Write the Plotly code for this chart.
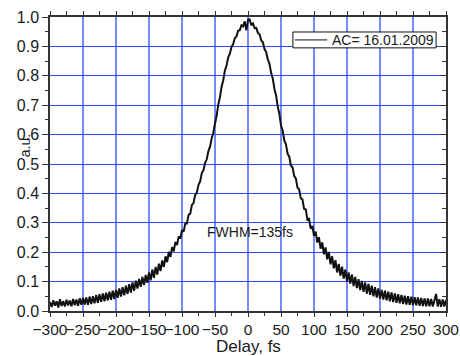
import numpy as np
import plotly.graph_objects as go

# Delay axis, 2.5 fs sampling from -300 to 300 fs
delay_start = -300.0
delay_step = 2.5

# Measured autocorrelation (a.u.), left half: -300 ... 0 fs
ac_left = [
    0.030, 0.014, 0.036, 0.018, 0.033, 0.012, 0.040, 0.017, 0.034, 0.015,
    0.038, 0.019, 0.036, 0.016, 0.041, 0.020, 0.039, 0.018, 0.043, 0.021,
    0.044, 0.022, 0.046, 0.021, 0.049, 0.024, 0.050, 0.026, 0.055, 0.028,
    0.057, 0.031, 0.060, 0.033, 0.062, 0.036, 0.066, 0.038, 0.069, 0.041,
    0.072, 0.045, 0.077, 0.049, 0.081, 0.053, 0.086, 0.058, 0.091, 0.063,
    0.097, 0.069, 0.103, 0.076, 0.109, 0.082, 0.116, 0.088, 0.123, 0.096,
    0.131, 0.104, 0.141, 0.113, 0.150, 0.124, 0.161, 0.136, 0.172, 0.150,
    0.186, 0.166, 0.201, 0.184, 0.217, 0.203, 0.235, 0.224, 0.254, 0.246,
    0.275, 0.270, 0.298, 0.298, 0.327, 0.331, 0.361, 0.367, 0.395, 0.403,
    0.429, 0.441, 0.469, 0.479, 0.504, 0.516, 0.544, 0.559, 0.588, 0.607,
    0.638, 0.664, 0.703, 0.727, 0.763, 0.785, 0.818, 0.835, 0.863, 0.875,
    0.898, 0.907, 0.928, 0.934, 0.953, 0.955, 0.972, 0.968, 0.985, 0.955,
    0.990,
]
# Right half: 2.5 ... 300 fs
ac_right = [
    0.992, 0.972, 0.978, 0.962, 0.963, 0.946, 0.941, 0.921, 0.914, 0.891,
    0.881, 0.856, 0.841, 0.811, 0.791, 0.756, 0.734, 0.696, 0.671, 0.631,
    0.614, 0.580, 0.567, 0.535, 0.525, 0.495, 0.488, 0.459, 0.451, 0.419,
    0.414, 0.383, 0.380, 0.347, 0.346, 0.311, 0.314, 0.280, 0.289, 0.256,
    0.270, 0.233, 0.251, 0.212, 0.233, 0.193, 0.216, 0.176, 0.201, 0.159,
    0.186, 0.145, 0.173, 0.131, 0.160, 0.120, 0.151, 0.110, 0.141, 0.101,
    0.131, 0.093, 0.124, 0.085, 0.116, 0.078, 0.108, 0.071, 0.102, 0.065,
    0.097, 0.059, 0.092, 0.055, 0.086, 0.050, 0.081, 0.046, 0.077, 0.042,
    0.072, 0.039, 0.069, 0.036, 0.066, 0.033, 0.063, 0.030, 0.060, 0.028,
    0.057, 0.026, 0.055, 0.024, 0.052, 0.022, 0.050, 0.021, 0.049, 0.020,
    0.047, 0.019, 0.046, 0.018, 0.044, 0.017, 0.043, 0.016, 0.043, 0.016,
    0.041, 0.015, 0.040, 0.058, 0.015, 0.040, 0.014, 0.039, 0.015, 0.037,
]
signal = ac_left + ac_right
delay = delay_start + delay_step * np.arange(len(signal))

series_name = "AC= 16.01.2009"
fwhm_label = "FWHM=135fs"
x_title = "Delay, fs"
y_title = "a.u."
x_range = [-300, 300]
y_range = [0.0, 1.0]

FONT = "Liberation Sans, Arial, sans-serif"

fig = go.Figure()
fig.add_trace(go.Scatter(x=delay, y=signal, mode="lines", name=series_name,
                         line=dict(color="#111111", width=2), showlegend=False))
# helper trace on the mirrored axes (top / right frame)
fig.add_trace(go.Scatter(x=delay, y=signal, mode="lines", xaxis="x2", yaxis="y2",
                         line=dict(width=0), opacity=0, showlegend=False, hoverinfo="skip"))

axis_line = "#333333"
fig.update_layout(
    width=460, height=356,
    margin=dict(l=50, r=14, t=17, b=45),
    paper_bgcolor="white", plot_bgcolor="white",
    font=dict(family=FONT, color="#1a1a1a"),
    xaxis=dict(range=x_range, dtick=50, tick0=0, ticks="outside", ticklen=4, tickwidth=1,
               tickcolor=axis_line, showline=True, linecolor=axis_line, linewidth=1.5,
               showgrid=True, gridcolor="rgba(80,110,255,0.8)", gridwidth=1.5,
               zeroline=False, tickfont=dict(size=15.5), tickangle=0,
               minor=dict(dtick=25, ticks="outside", ticklen=3, tickcolor=axis_line, showgrid=False),
               automargin=False),
    xaxis2=dict(range=x_range, overlaying="x", side="top", matches="x", dtick=50, tick0=0,
                ticks="outside", ticklen=4, tickcolor=axis_line, showline=True,
                linecolor=axis_line, linewidth=1.5, showgrid=False, zeroline=False,
                showticklabels=False,
                minor=dict(dtick=25, ticks="outside", ticklen=4, tickcolor=axis_line)),
    yaxis=dict(range=y_range, dtick=0.1, tick0=0, tickformat=".1f", ticks="outside", ticklen=6,
               tickcolor=axis_line, showline=True, linecolor=axis_line, linewidth=1.5,
               showgrid=True, gridcolor="#2a4bf0", gridwidth=1, zeroline=False,
               tickfont=dict(size=16),
               minor=dict(dtick=0.05, ticks="outside", ticklen=3, tickcolor=axis_line, showgrid=False),
               automargin=False),
    yaxis2=dict(range=y_range, overlaying="y", side="right", matches="y", dtick=0.1, tick0=0,
                ticks="inside", ticklen=6, tickcolor=axis_line, showline=True,
                linecolor=axis_line, linewidth=1.5, showgrid=False, zeroline=False,
                showticklabels=False,
                minor=dict(dtick=0.05, ticks="inside", ticklen=4, tickcolor=axis_line)),
)

# x-axis title
fig.add_annotation(text=x_title, xref="paper", yref="paper", x=0.5, y=-0.122,
                   yanchor="middle", showarrow=False,
                   font=dict(size=17, family=FONT, color="#1a1a1a"))
# rotated y-axis label
fig.add_annotation(text=y_title, xref="paper", yref="paper", x=-0.088, y=0.561,
                   textangle=-90, showarrow=False, font=dict(size=14, family=FONT, color="#1a1a1a"))
# FWHM label
fig.add_annotation(text=fwhm_label, x=3, y=0.268, showarrow=False,
                   font=dict(size=14, family=FONT, color="#1a1a1a"))

# legend box (drawn manually to mimic the original frame)
fig.add_shape(type="rect", x0=68, x1=285, y0=0.895, y1=0.949,
              line=dict(color="#111111", width=1), fillcolor="white", layer="above")
fig.add_shape(type="line", x0=71, x1=120, y0=0.922, y1=0.922,
              line=dict(color="#111111", width=1), layer="above")
fig.add_annotation(text=series_name, x=124, y=0.922, xanchor="left", showarrow=False,
                   font=dict(size=14, family=FONT, color="#1a1a1a"))

fig.write_html("out.html")
